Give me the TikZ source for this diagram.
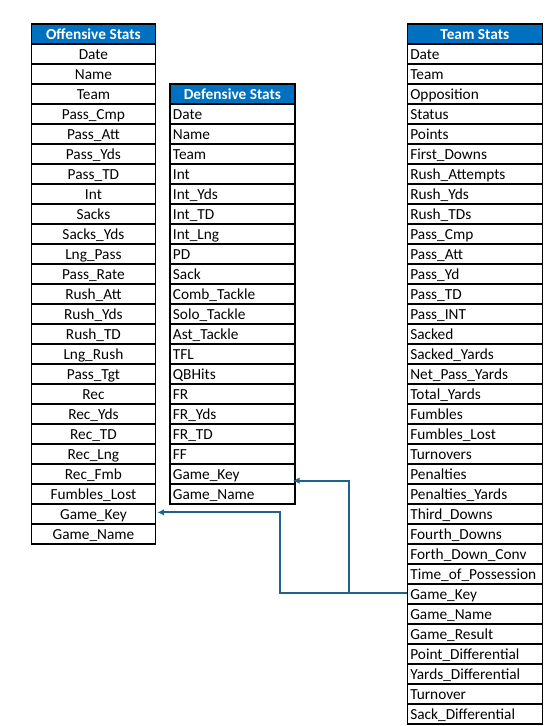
\documentclass[tikz,border=0pt]{standalone}
\usepackage{fontspec}
\setmainfont{Carlito}
\usetikzlibrary{arrows.meta}
\definecolor{hdrblue}{HTML}{0070C0}
\definecolor{connblue}{HTML}{1F6388}
\begin{document}
\begin{tikzpicture}[x=0.75pt,y=-0.75pt,
  basecell/.style={draw=black, line width=1pt, anchor=north west, inner ysep=0pt,
    minimum height=15pt, text height=10pt, text depth=2.4pt, font=\fontsize{11.5pt}{13.5pt}\selectfont},
  hdrcell/.style={basecell, fill=hdrblue, text=white, font=\fontsize{11.5pt}{13.5pt}\selectfont\bfseries,
    inner xsep=0pt, minimum width=#1, align=center},
  ccell/.style={basecell, fill=white, inner xsep=0pt, minimum width=#1, align=center},
  lcell/.style={basecell, fill=white, inner xsep=2.2pt, text width=#1-4.4pt, align=left},
  conn/.style={draw=connblue, line width=1.5pt, -{Latex[length=5pt,width=5pt]}}]
\useasboundingbox (0,0) rectangle (545,726);
% Offensive Stats
\node[hdrcell=93.4pt] (off-0) at (30.5,23.3) {Offensive Stats};
\foreach \t [count=\i] in {Date,Name,Team,Pass\_Cmp,Pass\_Att,Pass\_Yds,Pass\_TD,Int,Sacks,Sacks\_Yds,Lng\_Pass,Pass\_Rate,Rush\_Att,Rush\_Yds,Rush\_TD,Lng\_Rush,Pass\_Tgt,Rec,Rec\_Yds,Rec\_TD,Rec\_Lng,Rec\_Fmb,Fumbles\_Lost,Game\_Key,Game\_Name}
  \node[ccell=93.4pt] (off-\i) at (30.5,23.3+\i*20) {\t};
% Defensive Stats
\node[hdrcell=93.75pt] (def-0) at (169.3,83.3) {Defensive Stats};
\foreach \t [count=\i] in {Date,Name,Team,Int,Int\_Yds,Int\_TD,Int\_Lng,PD,Sack,Comb\_Tackle,Solo\_Tackle,Ast\_Tackle,TFL,QBHits,FR,FR\_Yds,FR\_TD,FF,Game\_Key,Game\_Name}
  \node[lcell=93.75pt] (def-\i) at (169.3,83.3+\i*20) {\t};
% Team Stats
\node[hdrcell=101.25pt] (team-0) at (406.7,23.3) {Team Stats};
\foreach \t [count=\i] in {Date,Team,Opposition,Status,Points,First\_Downs,Rush\_Attempts,Rush\_Yds,Rush\_TDs,Pass\_Cmp,Pass\_Att,Pass\_Yd,Pass\_TD,Pass\_INT,Sacked,Sacked\_Yards,Net\_Pass\_Yards,Total\_Yards,Fumbles,Fumbles\_Lost,Turnovers,Penalties,Penalties\_Yards,Third\_Downs,Fourth\_Downs,Forth\_Down\_Conv,Time\_of\_Possession,Game\_Key,Game\_Name,Game\_Result,Point\_Differential,Yards\_Differential,Turnover,Sack\_Differential}
  \node[lcell=101.25pt] (team-\i) at (406.7,23.3+\i*20) {\t};
% Connectors
\draw[conn] ([yshift=1pt]team-28.west) -- ++(-126.7,0) |- ([xshift=0.8pt,yshift=1.2pt]off-24.east);
\draw[conn] ([yshift=1pt]team-28.west) -- ++(-57.7,0) |- ([xshift=-2pt,yshift=-5pt]def-19.east);
\end{tikzpicture}
\end{document}
